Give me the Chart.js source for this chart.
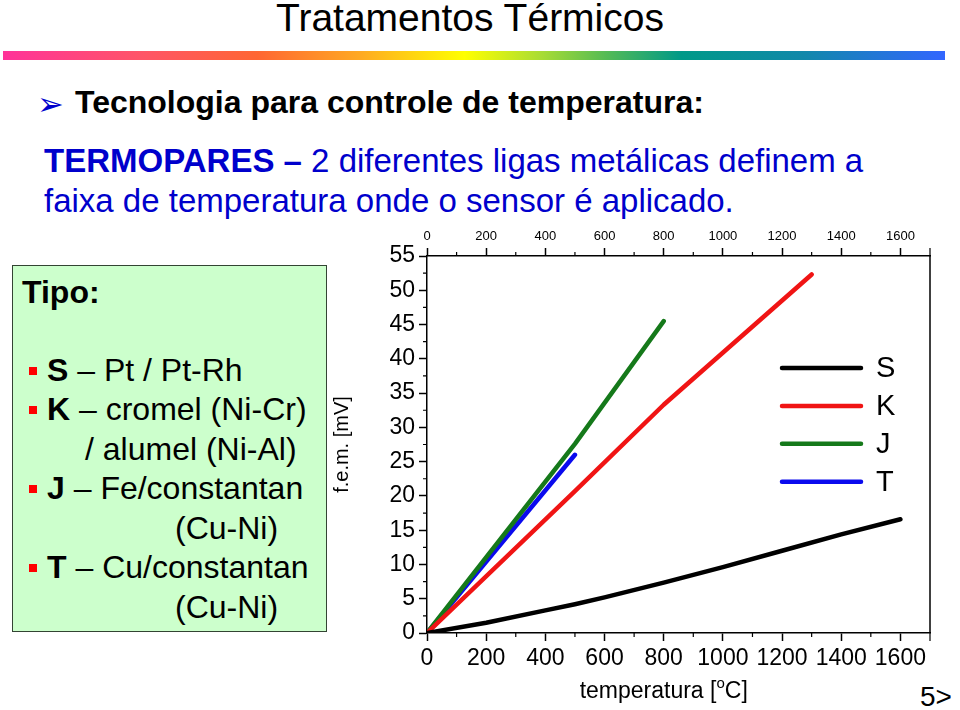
<!DOCTYPE html>
<html><head><meta charset="utf-8">
<script src="https://cdn.jsdelivr.net/npm/chart.js@4/dist/chart.umd.min.js"></script>
<style>
body{margin:0;background:#fff;width:960px;height:710px;overflow:hidden;position:relative;font-family:"Liberation Sans",Arial,sans-serif;color:#000;}
.t{position:absolute;white-space:nowrap;line-height:1;}
.blue{color:#0000cc;}
.bul{position:absolute;width:8px;height:8px;background:#ff0000;}
#box{position:absolute;left:12px;top:265px;width:313px;height:365px;background:#ccffcc;border:1.5px solid #334433;}
#wrap{position:absolute;left:0;top:0;width:960px;height:710px;}
</style></head><body>
<div class="t" style="left:0;width:940px;text-align:center;top:-2px;font-size:39px">Tratamentos Térmicos</div>
<div style="position:absolute;left:3px;top:51px;width:942px;height:9px;background:linear-gradient(to right,#ff3399 0%,#ff5566 15%,#ff6633 27%,#ffaa22 38%,#ffff00 49%,#aadd33 57%,#55bb55 64%,#009988 72%,#1188aa 85%,#3366ff 100%)"></div>
<div class="t blue" style="left:37px;top:88px;font-size:32px;font-family:'DejaVu Sans'">➢</div>
<div class="t" style="left:75px;top:86px;font-size:32px;font-weight:bold">Tecnologia para controle de temperatura:</div>
<div class="t blue" style="left:44px;top:144px;font-size:33px"><b>TERMOPARES –</b> 2 diferentes ligas metálicas definem a</div>
<div class="t blue" style="left:44px;top:184px;font-size:33px">faixa de temperatura onde o sensor é aplicado.</div>

<div id="box"></div>
<div class="t" style="left:22px;top:276px;font-size:32px;font-weight:bold">Tipo:</div>
<div class="bul" style="left:29px;top:367px"></div>
<div class="t" style="left:47px;top:354px;font-size:32px"><b>S</b> – Pt / Pt-Rh</div>
<div class="bul" style="left:29px;top:406px"></div>
<div class="t" style="left:47px;top:393px;font-size:32px"><b>K</b> – cromel (Ni-Cr)</div>
<div class="t" style="left:85px;top:433px;font-size:32px">/ alumel (Ni-Al)</div>
<div class="bul" style="left:29px;top:485px"></div>
<div class="t" style="left:47px;top:472px;font-size:32px"><b>J</b> – Fe/constantan</div>
<div class="t" style="left:175px;top:512px;font-size:32px">(Cu-Ni)</div>
<div class="bul" style="left:29px;top:564px"></div>
<div class="t" style="left:47px;top:551px;font-size:32px"><b>T</b> – Cu/constantan</div>
<div class="t" style="left:175px;top:591px;font-size:32px">(Cu-Ni)</div>

<div class="t" style="left:920px;top:683px;font-size:28px">5&gt;</div>

<div id="wrap"><canvas id="c" width="960" height="710"></canvas></div>
<script>
// ---- data ----
const seriesNames = ['S', 'K', 'J', 'T'];
const seriesColors = ['#000000', '#f01414', '#15791a', '#0a0aee'];
const sTemps  = [0, 200, 400, 500, 600, 800, 1000, 1200, 1400, 1600];
const sValues = [0, 1.5, 3.3, 4.2, 5.2, 7.35, 9.6, 12.0, 14.4, 16.6];
const kTemps  = [0, 500, 800, 1300];
const kValues = [0, 20.7, 33.3, 52.3];
const jTemps  = [0, 500, 800];
const jValues = [0, 27.6, 45.5];
const tTemps  = [0, 500];
const tValues = [0, 26.0];
const xTickLabels = [0, 200, 400, 600, 800, 1000, 1200, 1400, 1600];
const xMinorTicks = [100, 300, 500, 700, 900, 1100, 1300, 1500, 1700];
const yTickLabels = [0, 5, 10, 15, 20, 25, 30, 35, 40, 45, 50, 55];
const yMinorTicks = [2.5, 7.5, 12.5, 17.5, 22.5, 27.5, 32.5, 37.5, 42.5, 47.5, 52.5];
const xTitle = ['temperatura [', 'o', 'C]'];
const yTitle = 'f.e.m. [mV]';

Chart.defaults.font.family = "'Liberation Sans', Arial, sans-serif";
Chart.defaults.color = '#000';

const pts = (xs, ys) => xs.map((x, i) => ({x: x, y: ys[i]}));
const allTemps = [sTemps, kTemps, jTemps, tTemps];
const allValues = [sValues, kValues, jValues, tValues];

const datasets = seriesNames.map((n, i) => ({
  label: n,
  data: pts(allTemps[i], allValues[i]),
  borderColor: seriesColors[i],
  backgroundColor: seriesColors[i],
  borderWidth: 4.5,
  pointRadius: 0,
  tension: 0,
  borderCapStyle: 'round',
  borderJoinStyle: 'round',
  xAxisID: 'x', yAxisID: 'y'
}));

const setTicks = arr => scale => { scale.ticks = arr.map(v => ({value: v})); };
const plain = v => String(v);

const decor = {
  id: 'decor',
  afterDraw(chart) {
    const {ctx, chartArea: a, scales} = chart;
    ctx.save();
    ctx.strokeStyle = '#000';
    ctx.lineWidth = 1.5;
    ctx.beginPath();
    ctx.moveTo(a.right, a.top); ctx.lineTo(a.right, a.bottom);
    ctx.stroke();
    ctx.lineWidth = 1.2;
    ctx.beginPath();
    xMinorTicks.forEach(v => {
      const px = scales.x.getPixelForValue(v);
      const len = v === 1700 ? 8 : 4;
      ctx.moveTo(px, a.bottom); ctx.lineTo(px, a.bottom + len);
      ctx.moveTo(px, a.top); ctx.lineTo(px, a.top - len);
    });
    yMinorTicks.forEach(v => {
      const py = scales.y.getPixelForValue(v);
      ctx.moveTo(a.left - 4, py); ctx.lineTo(a.left, py);
    });
    ctx.stroke();

    // legend
    const ds = chart.data.datasets;
    ctx.font = "29px 'Liberation Sans', Arial, sans-serif";
    ctx.textBaseline = 'middle';
    ctx.textAlign = 'left';
    ds.forEach((d, i) => {
      const y = a.top + 112 + i * 37.9;
      ctx.strokeStyle = d.borderColor;
      ctx.lineWidth = 4.5;
      ctx.lineCap = 'round';
      ctx.beginPath();
      ctx.moveTo(a.right - 148, y); ctx.lineTo(a.right - 69, y);
      ctx.stroke();
      ctx.fillStyle = '#000';
      ctx.fillText(d.label, a.right - 54, y + 1);
    });

    // x axis title with superscript
    const cx = scales.x.getPixelForValue(800);
    const base = 698;
    ctx.textBaseline = 'alphabetic';
    const big = "23px 'Liberation Sans', Arial, sans-serif";
    const small = "15px 'Liberation Sans', Arial, sans-serif";
    ctx.font = big; const w1 = ctx.measureText(xTitle[0]).width;
    ctx.font = small; const w2 = ctx.measureText(xTitle[1]).width;
    ctx.font = big; const w3 = ctx.measureText(xTitle[2]).width;
    let x0 = cx - (w1 + w2 + w3) / 2;
    ctx.fillStyle = '#000';
    ctx.font = big; ctx.fillText(xTitle[0], x0, base);
    ctx.font = small; ctx.fillText(xTitle[1], x0 + w1, base - 10);
    ctx.font = big; ctx.fillText(xTitle[2], x0 + w1 + w2, base);
    ctx.restore();
  }
};

new Chart(document.getElementById('c'), {
  type: 'line',
  data: {datasets: datasets},
  options: {
    responsive: false,
    animation: false,
    layout: {padding: {left: 330, right: 30, top: 220, bottom: 0}},
    plugins: {legend: {display: false}, tooltip: {enabled: false}},
    scales: {
      x: {
        type: 'linear', position: 'bottom', min: 0, max: 1700,
        afterBuildTicks: setTicks(xTickLabels),
        afterFit: s => { s.height = 77; s.paddingLeft = 0; s.paddingRight = 0; },
        ticks: {font: {size: 23}, padding: 4, maxRotation: 0, autoSkip: false, color: '#000', callback: plain},
        grid: {drawOnChartArea: false, tickLength: 8, tickColor: '#000', tickWidth: 1.5},
        border: {display: true, color: '#000', width: 1.5}
      },
      x2: {
        type: 'linear', position: 'top', min: 0, max: 1700,
        afterBuildTicks: setTicks(xTickLabels),
        afterFit: s => { s.height = 36; s.paddingLeft = 0; s.paddingRight = 0; },
        ticks: {font: {size: 13}, padding: 4, maxRotation: 0, autoSkip: false, color: '#000', callback: plain},
        grid: {drawOnChartArea: false, tickLength: 8, tickColor: '#000', tickWidth: 1.5},
        border: {display: true, color: '#000', width: 1.5}
      },
      y: {
        type: 'linear', position: 'left', min: 0, max: 55,
        afterBuildTicks: setTicks(yTickLabels),
        afterFit: s => { s.width = 97; s.paddingTop = 0; s.paddingBottom = 0; },
        ticks: {font: {size: 23}, padding: 4, autoSkip: false, color: '#000', callback: plain},
        grid: {drawOnChartArea: false, tickLength: 8, tickColor: '#000', tickWidth: 1.5},
        border: {display: true, color: '#000', width: 1.5},
        title: {display: true, text: yTitle, font: {size: 20}, color: '#000', padding: {top: 0, bottom: 0}}
      }
    }
  },
  plugins: [decor]
});
</script>
</body></html>
